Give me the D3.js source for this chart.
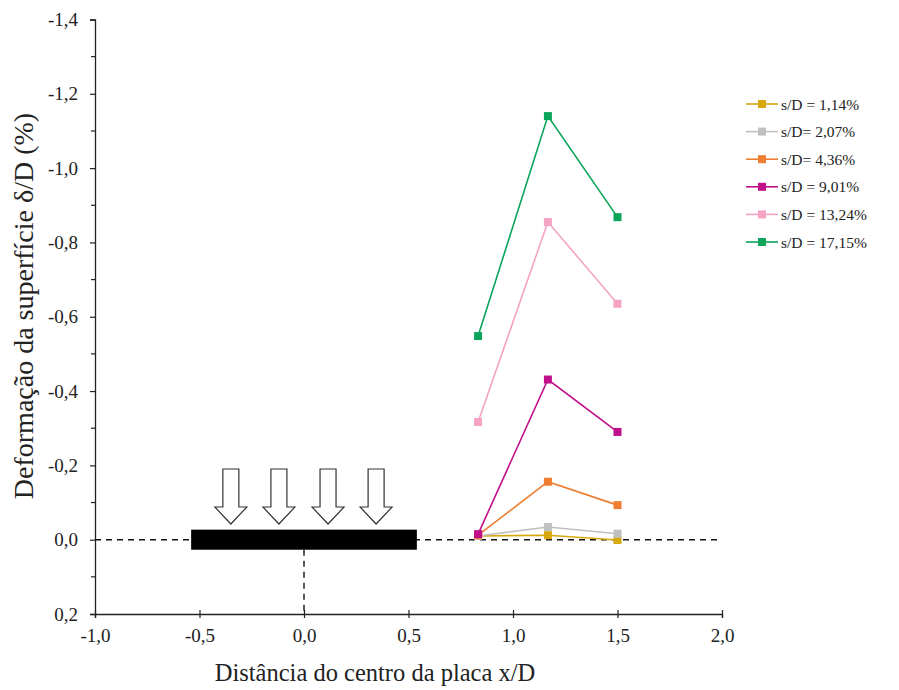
<!DOCTYPE html>
<html>
<head>
<meta charset="utf-8">
<script src="https://cdn.jsdelivr.net/npm/d3@7"></script>
<style>
  html, body { margin: 0; padding: 0; background: #fff; }
</style>
</head>
<body>
<svg id="chart" width="899" height="690"></svg>
<script>
// Distance from plate centre (x/D) of the three surface points
const xPositions = [0.833, 1.167, 1.5];

// Surface deformation δ/D (%) for each settlement level s/D
const seriesNames = ["s/D = 1,14%", "s/D= 2,07%", "s/D= 4,36%", "s/D = 9,01%", "s/D = 13,24%", "s/D = 17,15%"];
const sd114 = [-0.010, -0.012, 0.001];
const sd207 = [-0.010, -0.034, -0.016];
const sd436 = [-0.012, -0.156, -0.093];
const sd901 = [-0.015, -0.431, -0.290];
const sd1324 = [-0.317, -0.855, -0.635];
const sd1715 = [-0.548, -1.140, -0.868];
const seriesColors = ["#d6a80c", "#c0c0c0", "#ed7d31", "#c0108a", "#f4a3c4", "#0aa55a"];

// Axis ticks
const xTicks = [-1.0, -0.5, 0.0, 0.5, 1.0, 1.5, 2.0];
const yTicks = [0.2, 0.0, -0.2, -0.4, -0.6, -0.8, -1.0, -1.2, -1.4];
const yMinorTicks = [0.1, -0.1, -0.3, -0.5, -0.7, -0.9, -1.1, -1.3];

// Plate and load arrows (x/D)
const plateHalfWidth = 0.54;
const plateHalfThickness = 0.027;
const arrowX = [-0.35, -0.12, 0.115, 0.345];

const allSeries = [sd114, sd207, sd436, sd901, sd1324, sd1715];
const serif = "'Liberation Serif', 'Times New Roman', serif";

const svg = d3.select("#chart");
const x = d3.scaleLinear().domain([-1.0, 2.0]).range([95, 722]);
const y = d3.scaleLinear().domain([0.2, -1.4]).range([614, 19.5]);
const fmt = v => d3.format(".1f")(v).replace(".", ",").replace("−", "-");

// Y axis
const yAxis = d3.axisLeft(y).tickValues(yTicks).tickSize(5).tickPadding(12).tickFormat(fmt);
const gy = svg.append("g").attr("transform", `translate(${x(-1.0)},0)`).call(yAxis);
gy.select(".domain").attr("stroke", "#222").attr("stroke-width", 1.3);
gy.selectAll(".tick line").attr("stroke", "#222").attr("stroke-width", 1.2);
gy.selectAll("text").style("font-size", "19px");
svg.append("g").attr("transform", `translate(${x(-1.0)},0)`)
  .selectAll("line").data(yMinorTicks).join("line")
  .attr("x1", -4).attr("x2", 0)
  .attr("y1", d => y(d)).attr("y2", d => y(d))
  .attr("stroke", "#222").attr("stroke-width", 1.2);

// X axis (ticks cross the line)
const xAxis = d3.axisBottom(x).tickValues(xTicks).tickSize(4).tickPadding(11).tickFormat(fmt);
const gx = svg.append("g").attr("transform", `translate(0,${y(0.2)})`).call(xAxis);
gx.select(".domain").attr("stroke", "#222").attr("stroke-width", 1.3);
gx.selectAll(".tick line").attr("y1", -4).attr("stroke", "#222").attr("stroke-width", 1.2);
gx.selectAll("text").style("font-size", "19px");

// Axis titles
svg.append("text")
  .attr("x", 375).attr("y", 681)
  .attr("text-anchor", "middle")
  .style("font-size", "24.5px")
  .text("Distância do centro da placa x/D");
svg.append("text")
  .attr("transform", "translate(33,306) rotate(-90)")
  .attr("text-anchor", "middle")
  .style("font-size", "28px")
  .text("Deformação da superfície δ/D (%)");

// Reference dashed lines: ground surface and plate axis
svg.append("line")
  .attr("x1", x(-1.0)).attr("x2", x(2.0))
  .attr("y1", y(0)).attr("y2", y(0))
  .attr("stroke", "#111").attr("stroke-width", 1.4).attr("stroke-dasharray", "6,5");
svg.append("line")
  .attr("x1", x(0)).attr("x2", x(0))
  .attr("y1", y(plateHalfThickness)).attr("y2", y(0.2))
  .attr("stroke", "#111").attr("stroke-width", 1.4).attr("stroke-dasharray", "6,5");

// Plate
svg.append("rect")
  .attr("x", x(-plateHalfWidth))
  .attr("y", y(-plateHalfThickness))
  .attr("width", x(plateHalfWidth) - x(-plateHalfWidth))
  .attr("height", y(plateHalfThickness) - y(-plateHalfThickness))
  .attr("fill", "#000");

// Load arrows
const arrowTop = 469, arrowNeck = 507, arrowTip = 524, shaftHalf = 8, headHalf = 16;
svg.append("g").selectAll("path").data(arrowX).join("path")
  .attr("d", d => {
    const cx = x(d);
    return `M${cx - shaftHalf},${arrowTop} L${cx + shaftHalf},${arrowTop} L${cx + shaftHalf},${arrowNeck} ` +
           `L${cx + headHalf},${arrowNeck} L${cx},${arrowTip} L${cx - headHalf},${arrowNeck} ` +
           `L${cx - shaftHalf},${arrowNeck} Z`;
  })
  .attr("fill", "#fff").attr("stroke", "#333").attr("stroke-width", 1.2)
  .attr("stroke-linejoin", "miter");

// Data series
const line = d3.line().x(d => x(d[0])).y(d => y(d[1]));
const ms = 8;
allSeries.forEach((vals, i) => {
  const pts = vals.map((v, j) => [xPositions[j], v]);
  const g = svg.append("g");
  g.append("path").attr("d", line(pts))
    .attr("fill", "none").attr("stroke", seriesColors[i]).attr("stroke-width", 1.6);
  g.selectAll("rect").data(pts).join("rect")
    .attr("x", d => x(d[0]) - ms / 2).attr("y", d => y(d[1]) - ms / 2)
    .attr("width", ms).attr("height", ms)
    .attr("fill", seriesColors[i]);
});

// Legend
const legend = svg.append("g").attr("transform", "translate(746,104)");
const rowH = 27.6;
seriesNames.forEach((name, i) => {
  const r = legend.append("g").attr("transform", `translate(0,${i * rowH})`);
  r.append("line").attr("x1", 0).attr("x2", 32).attr("y1", 0).attr("y2", 0)
    .attr("stroke", seriesColors[i]).attr("stroke-width", 1.6);
  r.append("rect").attr("x", 16 - 4).attr("y", -4).attr("width", 8).attr("height", 8)
    .attr("fill", seriesColors[i]);
  r.append("text").attr("x", 35).attr("y", 5.5)
    .style("font-size", "15.5px").text(name);
});

// Serif typeface everywhere
svg.selectAll("text").style("font-family", serif).attr("fill", "#222");
</script>
</body>
</html>
